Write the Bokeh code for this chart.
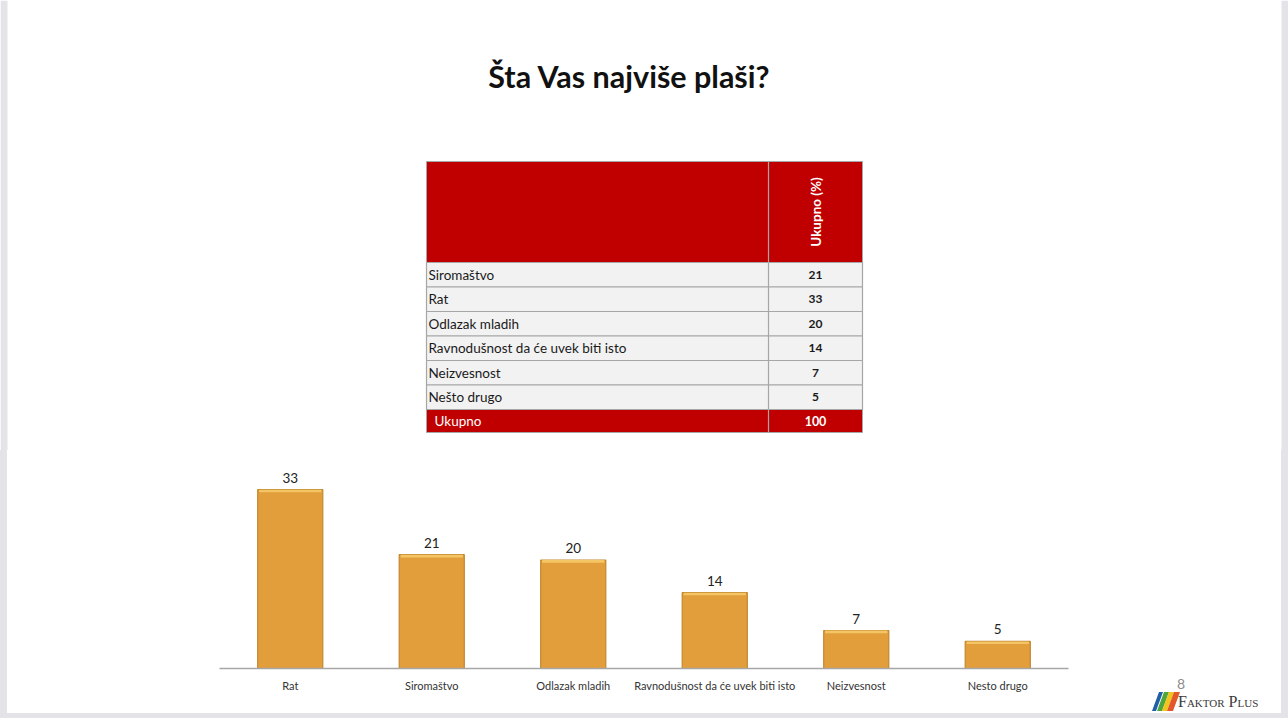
import math
from bokeh.plotting import figure
from bokeh.layouts import column, row
from bokeh.models import Range1d, FactorRange, ColumnDataSource, LabelSet, Div
from bokeh.core.properties import value
from bokeh.embed import file_html
from bokeh.resources import INLINE

# ---------------- data ----------------
title_text = "Šta Vas najviše plaši?"
table_header = "Ukupno (%)"
table_labels = ["Siromaštvo", "Rat", "Odlazak mladih",
                "Ravnodušnost da će uvek biti isto", "Neizvesnost", "Nešto drugo"]
table_values = [21, 33, 20, 14, 7, 5]
total_label = "Ukupno"
total_value = 100

bar_categories = ["Rat", "Siromaštvo", "Odlazak mladih",
                  "Ravnodušnost da će uvek biti isto", "Neizvesnost", "Nesto drugo"]
bar_values = [33, 21, 20, 14, 7, 5]

page_number = "8"
logo_text = "Faktor Plus"

# ---------------- styles ----------------
FONT = value("Lato")
RED = "#C00000"
GRID = "#A6A6A6"
STRIP = "#E4E4E8"
W = 1288
TOP_H = 450
MID_H = 263
BOT_H = 5


def blank(width, height, xr, yr):
    f = figure(width=width, height=height, x_range=xr, y_range=yr,
               output_backend="svg", toolbar_location=None,
               x_axis_location=None, y_axis_location=None, min_border=0)
    f.grid.visible = False
    f.outline_line_color = None
    f.background_fill_color = "white"
    f.border_fill_color = "white"
    return f


# ---------------- top: title + table ----------------
t = blank(W, TOP_H, Range1d(0, W), Range1d(TOP_H, 0))
t.quad(left=[0], right=[7], top=[0], bottom=[TOP_H], fill_color=STRIP, line_color=None)
t.quad(left=[1281], right=[W], top=[0], bottom=[TOP_H], fill_color=STRIP, line_color=None)

t.text(x=[629], y=[75], text=[title_text], text_font=FONT, text_font_style="bold",
       text_font_size="30.5px", text_align="center", text_baseline="middle", text_color="#111111")

TL, TR, TD = 426, 862, 768
HT, HB = 161, 262
RH = 24.5
TOTAL_H = 23
VX = 815
n = len(table_labels)
row_tops = [HB + i * RH for i in range(n)]
row_bots = [r + RH for r in row_tops]
row_mid = [r + RH / 2 for r in row_tops]
tot_top = HB + n * RH
tot_bot = tot_top + TOTAL_H

t.quad(left=[TL], right=[TR], top=[HT], bottom=[HB], fill_color=RED, line_color=GRID)
t.quad(left=TL, right=TR, top=row_tops, bottom=row_bots, fill_color="#F2F2F2",
       line_color=GRID, line_width=1.2)
t.quad(left=[TL], right=[TR], top=[tot_top], bottom=[tot_bot], fill_color=RED, line_color=GRID)
t.segment(x0=[TD], y0=[HT], x1=[TD], y1=[tot_bot], line_color=GRID, line_width=1.2)

t.text(x=[VX], y=[(HT + HB) / 2], text=[table_header], angle=math.pi / 2,
       text_font=FONT, text_font_style="bold", text_font_size="13.5px",
       text_color="white", text_align="center", text_baseline="middle")
t.text(x=TL + 2, y=row_mid, text=table_labels, text_font=FONT, text_font_size="13.5px",
       text_color="#1a1a1a", text_align="left", text_baseline="middle")
t.text(x=VX, y=row_mid, text=[str(v) for v in table_values], text_font=FONT,
       text_font_style="bold", text_font_size="12px", text_color="#1a1a1a",
       text_align="center", text_baseline="middle")
t.text(x=[TL + 8], y=[(tot_top + tot_bot) / 2], text=[total_label], text_font=FONT,
       text_font_size="13.5px", text_color="white", text_align="left", text_baseline="middle")
t.text(x=[VX], y=[(tot_top + tot_bot) / 2], text=[str(total_value)], text_font=FONT,
       text_font_style="bold", text_font_size="12.5px", text_color="white",
       text_align="center", text_baseline="middle")

# ---------------- middle: left strip, bar chart, logo ----------------
ls = Div(text="", width=7, height=MID_H,
         styles={"background-color": STRIP, "margin": "0", "padding": "0"})

b = figure(width=1123, height=MID_H, x_range=FactorRange(factors=bar_categories),
           y_range=Range1d(0, max(bar_values) * 1.163),
           output_backend="svg", toolbar_location=None, y_axis_location=None,
           min_border_left=212, min_border_right=62, min_border_top=10, min_border_bottom=45)
b.grid.visible = False
b.outline_line_color = None
b.background_fill_color = "white"
b.border_fill_color = "white"

src = ColumnDataSource(dict(cat=bar_categories, val=bar_values,
                            lbl=[str(v) for v in bar_values],
                            hl=[v - 0.5 for v in bar_values]))
b.vbar(x="cat", top="val", width=0.46, source=src, fill_color="#E29E3B",
       line_color="#C2872E", line_width=1.2)
b.vbar(x="cat", top="val", bottom="hl", width=0.44, source=src, fill_color="#F4C564",
       line_color=None)
b.add_layout(LabelSet(x="cat", y="val", text="lbl", source=src, y_offset=7,
                      text_align="center", text_baseline="bottom", text_font=FONT,
                      text_font_size="13.5px", text_color="#222222"))

ax = b.xaxis[0]
ax.axis_line_color = GRID
ax.axis_line_width = 1.5
ax.major_tick_line_color = None
ax.minor_tick_line_color = None
ax.major_label_standoff = 4
ax.major_label_text_font = "Lato"
ax.major_label_text_font_size = "11px"
ax.major_label_text_color = "#333333"

logo_cols = ["#1F5FA8", "#4FA63A", "#F2C41E", "#E2582A"]
logo_x0 = [22, 27, 32, 37]
logo_w = [4, 5, 5, 6]
polys = "".join(
    f'<polygon points="{x},19 {x + w},19 {x + w + 7},0 {x + 7},0" fill="{c}"/>'
    for x, w, c in zip([v - 22 for v in logo_x0], logo_w, logo_cols))
logo_html = (
    f'<div style="position:relative;width:158px;height:{MID_H}px;background:white;">'
    f'<div style="position:absolute;left:151px;top:0;width:7px;height:{MID_H}px;background:{STRIP};"></div>'
    f'<div style="position:absolute;left:44px;top:225px;width:14px;text-align:center;'
    f'font-family:Lato;font-size:14px;line-height:18px;color:#8c8c8c;">{page_number}</div>'
    f'<svg style="position:absolute;left:22px;top:242px;" width="30" height="20">{polys}</svg>'
    f'<div style="position:absolute;left:48px;top:242px;font-family:\'Liberation Serif\';'
    f'font-variant:small-caps;font-size:16px;line-height:20px;color:#3a3a3a;white-space:nowrap;">'
    f'{logo_text}</div>'
    f'</div>')
lg = Div(text=logo_html, width=158, height=MID_H, styles={"margin": "0", "padding": "0"})

bot = Div(text="", width=W, height=BOT_H,
          styles={"background-color": STRIP, "margin": "0", "padding": "0"})

layout = column(t, row(ls, b, lg), bot)
open("out.html", "w").write(file_html(layout, INLINE))
